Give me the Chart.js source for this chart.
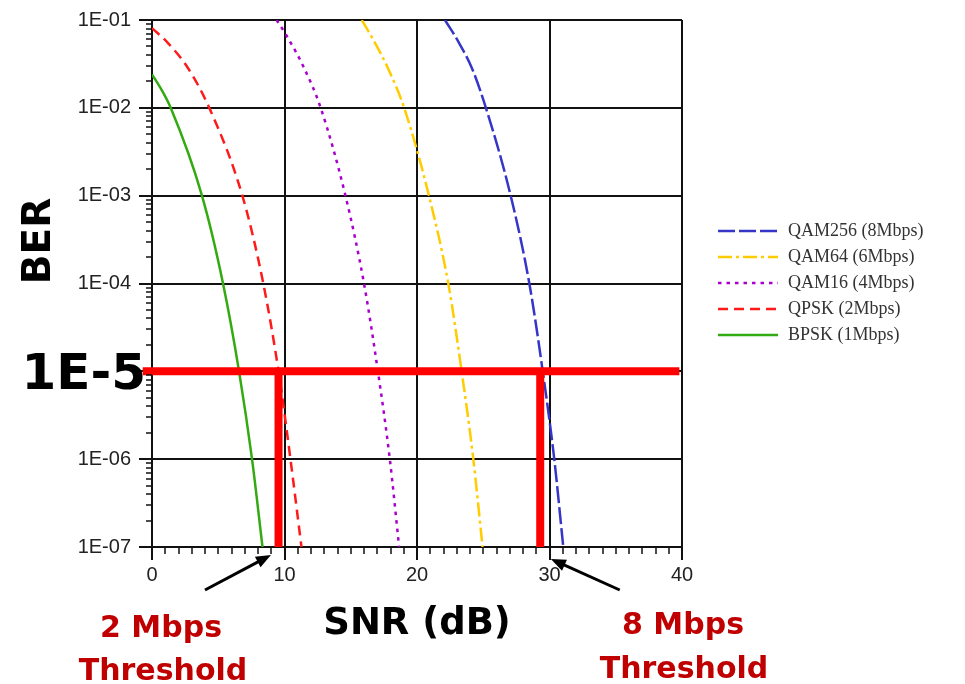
<!DOCTYPE html>
<html>
<head>
<meta charset="utf-8">
<title>BER vs SNR</title>
<script src="https://cdn.jsdelivr.net/npm/chart.js@4/dist/chart.umd.min.js"></script>
<style>
  html, body { margin: 0; padding: 0; background: #fff; }
  canvas { display: block; }
</style>
</head>
<body>
<canvas id="ber" width="965" height="684"></canvas>
<script>
// values: SNR in dB, BER
var qam256Snr = [22.11, 23.17, 24.13, 25.2, 27.07, 28.48, 29.49, 30.36, 31.04];
var qam256Ber = [1e-1, 5.5e-2, 2.86e-2, 1e-2, 1e-3, 1e-4, 1e-5, 1e-6, 1e-7];
var qam64Snr = [15.83, 16.83, 17.79, 19.03, 20.9, 22.36, 23.37, 24.25, 24.95];
var qam64Ber = [1e-1, 5.5e-2, 2.86e-2, 1e-2, 1e-3, 1e-4, 1e-5, 1e-6, 1e-7];
var qam16Snr = [9.4, 10.11, 11.47, 12.73, 14.6, 16.0, 17.05, 17.95, 18.65];
var qam16Ber = [1e-1, 6.82e-2, 2.86e-2, 1e-2, 1e-3, 1e-4, 1e-5, 1e-6, 1e-7];
var qpskSnr = [0, 1.19, 2.7, 4.32, 6.82, 8.4, 9.55, 10.45, 11.28];
var qpskBer = [8.1e-2, 5.5e-2, 2.86e-2, 1e-2, 1e-3, 1e-4, 1e-5, 1e-6, 1e-7];
var bpskSnr = [0, 0.755, 1.41, 3.77, 5.36, 6.57, 7.55, 8.34];
var bpskBer = [2.4e-2, 1.57e-2, 1e-2, 1e-3, 1e-4, 1e-5, 1e-6, 1e-7];

// the 1E-5 target and the two thresholds marked on it
var berTarget = 1e-5;
var targetSpan = [-0.7, 39.8];
var thresholdSnr = [9.55, 29.3];

var berTicks = [1e-1, 1e-2, 1e-3, 1e-4, 1e-5, 1e-6, 1e-7];
var berTickLabels = ['1E-01', '1E-02', '1E-03', '1E-04', '', '1E-06', '1E-07'];
var snrTicks = [0, 10, 20, 30, 40];

function pairs(xs, ys) {
    return xs.map(function (x, i) { return { x: x, y: ys[i] }; });
}

function curve(label, xs, ys, color, dash) {
    return {
        label: label,
        data: pairs(xs, ys),
        borderColor: color,
        borderWidth: 2.5,
        borderDash: dash,
        pointRadius: 0,
        cubicInterpolationMode: 'monotone',
        order: 2
    };
}

function bar(points) {
    return {
        data: points,
        borderColor: '#ff0000',
        borderWidth: 8,
        borderCapStyle: 'butt',
        pointRadius: 0,
        clip: false,
        order: 1
    };
}

var datasets = [
    curve('QAM256 (8Mbps)', qam256Snr, qam256Ber, '#3535c8', [17, 4]),
    curve('QAM64 (6Mbps)', qam64Snr, qam64Ber, '#ffcc00', [14, 4, 3, 4]),
    curve('QAM16 (4Mbps)', qam16Snr, qam16Ber, '#aa00cc', [3.5, 5]),
    curve('QPSK (2Mbps)', qpskSnr, qpskBer, '#ff1a1a', [10, 6]),
    curve('BPSK (1Mbps)', bpskSnr, bpskBer, '#33aa11', []),
    bar(targetSpan.map(function (x) { return { x: x, y: berTarget }; })),
    bar([{ x: thresholdSnr[0], y: berTarget }, { x: thresholdSnr[0], y: berTicks[6] }]),
    bar([{ x: thresholdSnr[1], y: berTarget }, { x: thresholdSnr[1], y: berTicks[6] }])
];

// short minor tick marks outside the plot
var minorTicks = {
    id: 'minorTicks',
    afterDraw: function (chart) {
        var ctx = chart.ctx, xs = chart.scales.x, ys = chart.scales.y;
        ctx.save();
        ctx.strokeStyle = '#111';
        ctx.lineWidth = 1.5;
        ctx.beginPath();
        for (var s = 1; s < 40; s++) {
            if (s % 10 === 0) continue;
            var px = Math.round(xs.getPixelForValue(s));
            ctx.moveTo(px, ys.bottom);
            ctx.lineTo(px, ys.bottom + 7);
        }
        for (var d = -7; d < -1; d++) {
            for (var m = 2; m < 10; m++) {
                var py = Math.round(ys.getPixelForValue(m * Math.pow(10, d)));
                ctx.moveTo(xs.left, py);
                ctx.lineTo(xs.left - 6, py);
            }
        }
        ctx.stroke();
        ctx.restore();
    }
};

// legend with line samples, right of the plot
var sideLegend = {
    id: 'sideLegend',
    afterDraw: function (chart) {
        var ctx = chart.ctx;
        ctx.save();
        chart.data.datasets.forEach(function (ds, i) {
            if (!ds.label) return;
            var y = 231 + i * 26;
            ctx.strokeStyle = ds.borderColor;
            ctx.lineWidth = 2.5;
            ctx.setLineDash(ds.borderDash);
            ctx.beginPath();
            ctx.moveTo(718, y);
            ctx.lineTo(778, y);
            ctx.stroke();
            ctx.setLineDash([]);
            ctx.fillStyle = '#333';
            ctx.font = '18px "Liberation Serif"';
            ctx.textBaseline = 'middle';
            ctx.fillText(ds.label, 788, y);
        });
        ctx.restore();
    }
};

function arrow(ctx, x0, y0, x1, y1) {
    var a = Math.atan2(y1 - y0, x1 - x0), h = 15, w = 6;
    ctx.beginPath();
    ctx.moveTo(x0, y0);
    ctx.lineTo(x1 - Math.cos(a) * h * 0.8, y1 - Math.sin(a) * h * 0.8);
    ctx.stroke();
    ctx.beginPath();
    ctx.moveTo(x1, y1);
    ctx.lineTo(x1 - Math.cos(a) * h - Math.sin(a) * w, y1 - Math.sin(a) * h + Math.cos(a) * w);
    ctx.lineTo(x1 - Math.cos(a) * h + Math.sin(a) * w, y1 - Math.sin(a) * h - Math.cos(a) * w);
    ctx.closePath();
    ctx.fill();
}

// titles, the big 1E-5 label, threshold notes and arrows
var notes = {
    id: 'notes',
    afterDraw: function (chart) {
        var ctx = chart.ctx, xs = chart.scales.x, ys = chart.scales.y;
        var bold = 'bold {s}px "DejaVu Sans"';
        ctx.save();
        ctx.fillStyle = '#000';
        ctx.textBaseline = 'alphabetic';

        ctx.textAlign = 'right';
        ctx.font = bold.replace('{s}', 50);
        ctx.fillText('1E-5', 146, ys.getPixelForValue(berTarget) + 18);

        ctx.textAlign = 'center';
        ctx.font = bold.replace('{s}', 37);
        ctx.fillText('SNR (dB)', (xs.left + xs.right) / 2, 634);

        ctx.save();
        ctx.translate(50, 241);
        ctx.rotate(-Math.PI / 2);
        ctx.font = bold.replace('{s}', 39);
        ctx.fillText('BER', 0, 0);
        ctx.restore();

        ctx.fillStyle = '#c00000';
        ctx.font = bold.replace('{s}', 30);
        ctx.fillText('2 Mbps', 161, 637);
        ctx.fillText('Threshold', 163, 680);
        ctx.fillText('8 Mbps', 683, 634);
        ctx.fillText('Threshold', 684, 678);

        ctx.fillStyle = '#000';
        ctx.strokeStyle = '#000';
        ctx.lineWidth = 3;
        var b = ys.bottom;
        arrow(ctx, xs.getPixelForValue(4.0), b + 43, xs.getPixelForValue(8.98), b + 8);
        arrow(ctx, xs.getPixelForValue(35.3), b + 43, xs.getPixelForValue(30.1), b + 12);
        ctx.restore();
    }
};

var tickFont = { family: '"Liberation Sans", Arial, sans-serif', size: 20 };

new Chart(document.getElementById('ber'), {
    type: 'line',
    data: { datasets: datasets },
    options: {
        responsive: false,
        animation: false,
        layout: { padding: { top: 17, right: 283, bottom: 0, left: 0 } },
        plugins: {
            legend: { display: false },
            tooltip: { enabled: false }
        },
        scales: {
            x: {
                type: 'linear',
                min: 0,
                max: 40,
                afterBuildTicks: function (scale) {
                    scale.ticks = snrTicks.map(function (v) { return { value: v }; });
                },
                afterFit: function (scale) { scale.height = 137; },
                ticks: { color: '#222', font: tickFont, padding: 3, maxRotation: 0 },
                grid: { color: '#111', lineWidth: 2, tickLength: 13, tickColor: '#111' },
                border: { color: '#111', width: 2 }
            },
            y: {
                type: 'logarithmic',
                min: 1e-7,
                max: 1e-1,
                afterBuildTicks: function (scale) {
                    scale.ticks = berTicks.map(function (v) { return { value: v }; });
                },
                afterFit: function (scale) { scale.width = 152; },
                ticks: {
                    color: '#222',
                    font: tickFont,
                    padding: 8,
                    callback: function (value) {
                        var i = berTicks.findIndex(function (t) { return Math.abs(Math.log10(t) - Math.log10(value)) < 1e-6; });
                        return i < 0 ? '' : berTickLabels[i];
                    }
                },
                grid: { color: '#111', lineWidth: 2, tickLength: 13, tickColor: '#111' },
                border: { color: '#111', width: 2 }
            }
        }
    },
    plugins: [minorTicks, sideLegend, notes]
});
</script>
</body>
</html>
